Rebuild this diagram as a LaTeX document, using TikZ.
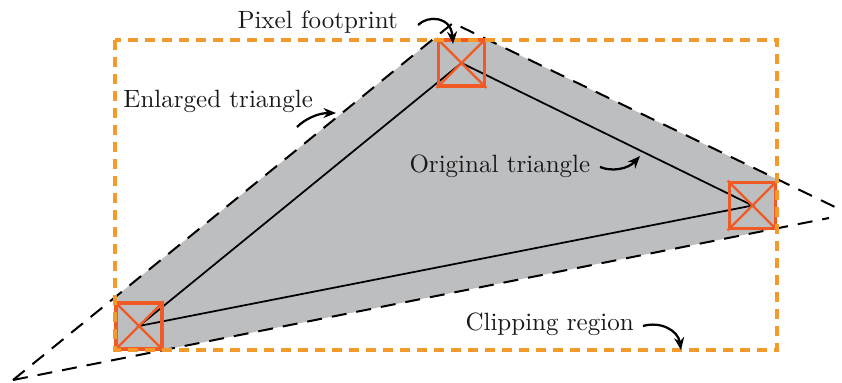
\documentclass[tikz,border=0pt]{standalone}
\usetikzlibrary{arrows.meta}
\definecolor{cliporange}{HTML}{F39A2B}
\definecolor{boxorange}{HTML}{F15A24}
\definecolor{fillgray}{HTML}{BDBEC0}
\begin{document}
\begin{tikzpicture}[x=0.4pt,y=-0.4pt,
  enl/.style={black,line width=0.8pt,dash pattern=on 6pt off 4pt},
  origline/.style={black,line width=0.7pt},
  clipline/.style={cliporange,line width=1.3pt,dash pattern=on 4pt off 2.8pt},
  pixbox/.style={draw=boxorange,line width=1.5pt,minimum size=18.4pt,inner sep=0pt},
  diag/.style={boxorange,line width=0.9pt},
  lbl/.style={inner sep=0pt,anchor=base west,text=black!90},
  arr/.style={black,line width=0.9pt,-{Stealth[length=5pt,width=4pt]}}]
\useasboundingbox (0,0) rectangle (842,382);
% enlarged triangle vertices
\coordinate (EA) at (453,23);
\coordinate (EL) at (13,380);
\coordinate (ER) at (849,214);
\coordinate (ERt) at (835,207);
\coordinate (ERb) at (829,218);
% original triangle vertices
\coordinate (PT) at (461.5,63);
\coordinate (PR) at (752.5,205.5);
\coordinate (PL) at (139,326);
% gray enlarged triangle clipped by region
\begin{scope}
  \clip (115,40) rectangle (777,350);
  \fill[fillgray] (EA) -- (EL) -- (ER) -- cycle;
\end{scope}
% enlarged triangle edges
\draw[enl] (EL) -- (EA) -- (ERt);
\draw[enl] (EL) -- (ERb);
% original triangle
\draw[origline] (PT) -- (PR) -- (PL) -- cycle;
% pixel footprints
\foreach \n/\p in {BT/PT,BR/PR,BL/PL}{
  \node[pixbox] (\n) at (\p) {};
  \draw[diag] (\n.north west) -- (\n.south east) (\n.north east) -- (\n.south west);
}
% clipping region
\draw[clipline] (115,40) rectangle (777,350);
% labels
\node[lbl] (pf) at (237,28) {Pixel footprint};
\node[lbl] (et) at (123,107) {Enlarged triangle};
\node[lbl] (ot) at (409,172) {Original triangle};
\node[lbl] (cr) at (465,330) {Clipping region};
% arrows
\coordinate (pfs) at (418,25);  \coordinate (pfe) at (453,44);
\coordinate (ets) at (297,127);  \coordinate (ete) at (336,113);
\coordinate (ots) at (600,167);  \coordinate (ote) at (640,156);
\coordinate (crs) at (643,326);  \coordinate (cre) at (681,350);
\draw[arr] (pfs) .. controls (428,15) and (451,16) .. (pfe);
\draw[arr] (ets) .. controls (305,119) and (318,113) .. (ete);
\draw[arr] (ots) .. controls (612,172) and (628,169) .. (ote);
\draw[arr] (crs) .. controls (660,321) and (678,330) .. (cre);
\end{tikzpicture}
\end{document}
